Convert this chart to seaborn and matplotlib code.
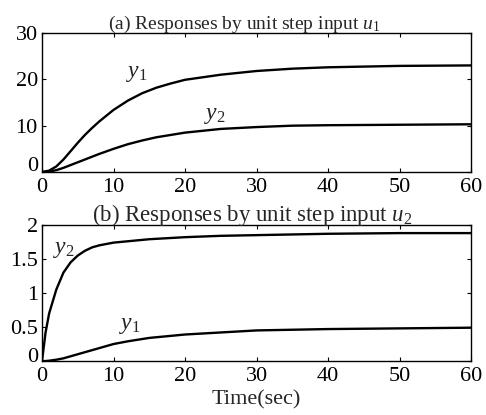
import pandas as pd
import matplotlib.pyplot as plt
import matplotlib.transforms as mtransforms
import seaborn as sns

# Waktu (detik) dan respons yang dibaca dari gambar
t = [0, 1, 2, 3, 4, 5, 6, 7, 8, 10, 12, 14, 16, 18, 20, 25, 30, 35, 40, 50, 60]

# (a) input u1
a_y1 = [0, 0.3, 1.2, 2.7, 4.5, 6.3, 8.0, 9.5, 10.9, 13.4, 15.4, 17.0, 18.2, 19.1, 19.9, 21.0, 21.8, 22.3, 22.6, 22.9, 23.0]
a_y2 = [0, 0.1, 0.4, 0.9, 1.5, 2.1, 2.7, 3.3, 3.9, 5.0, 6.0, 6.8, 7.5, 8.0, 8.5, 9.3, 9.7, 10.0, 10.1, 10.2, 10.3]

# (b) input u2
t_b = [0, 0.5, 1, 2, 3, 4, 5, 6, 7, 8, 10, 12, 15, 20, 25, 30, 40, 50, 60]
b_y2 = [0, 0.42, 0.7, 1.05, 1.3, 1.45, 1.55, 1.62, 1.67, 1.7, 1.74, 1.76, 1.79, 1.82, 1.84, 1.85, 1.87, 1.88, 1.88]
b_y1 = [0, 0, 0.005, 0.02, 0.04, 0.07, 0.1, 0.13, 0.16, 0.19, 0.25, 0.29, 0.34, 0.39, 0.42, 0.45, 0.47, 0.48, 0.49]

sns.set_theme(style='ticks')
plt.rcParams['font.family'] = ['Liberation Serif', 'DejaVu Serif']
plt.rcParams['mathtext.fontset'] = 'custom'
plt.rcParams['mathtext.rm'] = 'Liberation Serif'
plt.rcParams['mathtext.it'] = 'Liberation Serif:italic'

fig = plt.figure(figsize=(4.86, 4.15), dpi=100)
ax1 = fig.add_axes([0.0864, 0.5855, 0.883, 0.335])
ax2 = fig.add_axes([0.0864, 0.130, 0.883, 0.328])

sns.lineplot(x=t, y=a_y1, ax=ax1, color='black', linewidth=1.7)
sns.lineplot(x=t, y=a_y2, ax=ax1, color='black', linewidth=1.7)
ax1.set_xlim(0, 60)
ax1.set_ylim(0, 30)
ax1.set_yticks([0, 10, 20, 30])
ax1.set_title('(a) Responses by unit step input $u_1$', fontsize=14, pad=3, x=0.47)
ax1.text(13.2, 21.3, '$y_1$', fontsize=17, ha='center', va='center')
ax1.text(24.2, 12.3, '$y_2$', fontsize=17, ha='center', va='center')

sns.lineplot(x=t_b, y=b_y2, ax=ax2, color='black', linewidth=1.7)
sns.lineplot(x=t_b, y=b_y1, ax=ax2, color='black', linewidth=1.7)
ax2.set_xlim(0, 60)
ax2.set_ylim(0, 2)
ax2.set_yticks([0, 0.5, 1, 1.5, 2])
ax2.set_yticklabels(['0', '0.5', '1', '1.5', '2'])
ax2.set_title('(b) Responses by unit step input $u_2$', fontsize=16.5, pad=3, x=0.49)
ax2.set_xlabel('Time(sec)', fontsize=16, labelpad=3)
ax2.text(3.1, 1.64, '$y_2$', fontsize=17, ha='center', va='center')
ax2.text(12.3, 0.52, '$y_1$', fontsize=17, ha='center', va='center')

for ax in (ax1, ax2):
    ax.set_xticks([0, 10, 20, 30, 40, 50, 60])
    for s in ax.spines.values():
        s.set_visible(True)
        s.set_color('black')
        s.set_linewidth(1.0)
    ax.tick_params(direction='in', top=True, right=True, length=3, width=0.8,
                   labelsize=16, colors='black')
    ax.tick_params(axis='x', pad=4)
    ax.tick_params(axis='y', pad=3)

fig.canvas.draw()
# angka 0 pada sumbu y sedikit dinaikkan agar tidak menabrak angka 0 sumbu x
lab = ax1.get_yticklabels()[0]
lab.set_transform(lab.get_transform() + mtransforms.ScaledTranslation(0, 6 / 72, fig.dpi_scale_trans))
lab = ax2.get_yticklabels()[0]
lab.set_transform(lab.get_transform() + mtransforms.ScaledTranslation(0, 4 / 72, fig.dpi_scale_trans))

fig.savefig('out.png', dpi=100)
